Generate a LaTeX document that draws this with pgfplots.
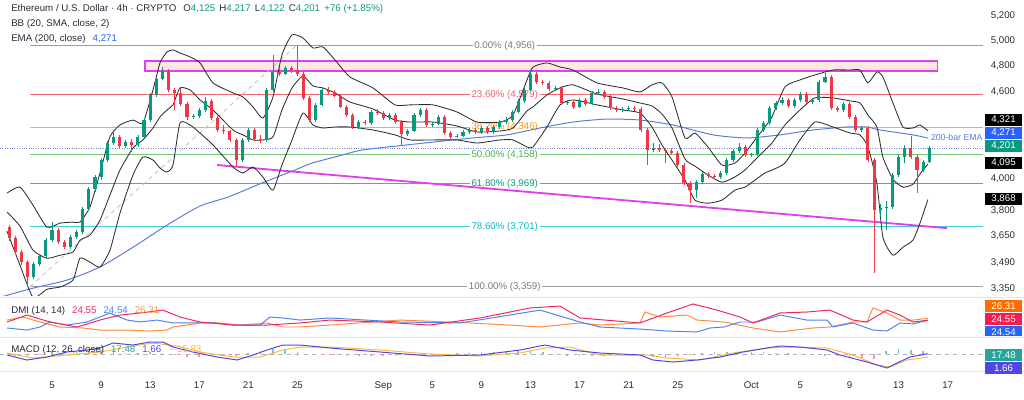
\documentclass[border=0pt]{standalone}
\usepackage{pgfplots}
\usepackage{pgfplotstable}
\pgfplotsset{compat=1.18}
\usepackage{fontspec}
\setmainfont{Liberation Sans}
\definecolor{upc}{RGB}{8,153,129}
\definecolor{dnc}{RGB}{242,54,69}
\definecolor{emac}{RGB}{90,125,215}
\definecolor{bbc}{RGB}{45,45,45}
\definecolor{fgray}{RGB}{120,123,134}
\definecolor{fred}{RGB}{242,54,69}
\definecolor{forange}{RGB}{255,152,0}
\definecolor{fgreen}{RGB}{76,175,80}
\definecolor{fteal}{RGB}{8,153,129}
\definecolor{fcyan}{RGB}{0,188,212}
\definecolor{pinkf}{RGB}{253,232,226}
\definecolor{magc}{RGB}{224,64,235}
\definecolor{txt}{RGB}{40,44,56}
\definecolor{sepc}{RGB}{224,227,235}
\definecolor{adxc}{RGB}{240,40,90}
\definecolor{pdic}{RGB}{80,130,240}
\definecolor{mdic}{RGB}{255,140,60}
\definecolor{macdc}{RGB}{80,70,230}
\definecolor{sigc}{RGB}{250,185,60}
\definecolor{histup}{RGB}{120,200,190}
\definecolor{histdn}{RGB}{245,150,160}
\definecolor{boxblue}{RGB}{41,98,255}
\definecolor{boxorange}{RGB}{255,109,0}
\definecolor{boxred}{RGB}{242,30,80}
\definecolor{boxteal}{RGB}{38,166,154}
\definecolor{pricedot}{RGB}{110,140,200}
\newcommand{\tvf}{\fontsize{6.9}{7.8}\selectfont}

\pgfplotstableread{
x o h l c
3.5 3413 3495 3400 3485
4.0 3485 3542 3475 3530
4.5 3530 3635 3520 3622
5.0 3622 3729 3610 3681
6.5 3581 3652 3572 3640
7.0 3640 3680 3628 3669
7.5 3669 3820 3660 3808
8.0 3808 3945 3795 3933
8.5 3933 4025 3915 4010
9.0 4010 4135 3995 4122
9.5 4122 4250 4110 4237
10.0 4237 4327 4225 4279
11.0 4217 4258 4200 4244
12.0 4224 4292 4212 4279
12.5 4279 4410 4268 4397
13.0 4397 4592 4385 4579
13.5 4579 4712 4565 4699
14.0 4699 4790 4688 4759
16.5 4419 4440 4405 4425
17.0 4425 4480 4410 4469
17.5 4469 4564 4458 4535
20.5 4122 4270 4110 4258
21.0 4258 4340 4245 4327
22.5 4258 4630 4245 4616
23.0 4616 4885 4600 4752
24.0 4735 4800 4725 4783
26.5 4397 4518 4385 4506
27.0 4506 4630 4495 4616
30.0 4348 4395 4335 4383
31.0 4376 4468 4365 4455
32.5 4411 4448 4400 4433
34.0 4299 4335 4288 4320
34.5 4320 4448 4310 4433
35.0 4433 4482 4420 4469
36.0 4362 4385 4350 4370
36.5 4370 4432 4360 4419
38.0 4279 4300 4268 4286
38.5 4286 4325 4275 4313
39.0 4313 4340 4300 4327
40.0 4313 4355 4302 4341
41.0 4313 4362 4302 4348
41.5 4348 4395 4336 4383
42.0 4383 4420 4370 4397
42.5 4397 4468 4385 4455
43.0 4455 4548 4445 4535
43.5 4535 4630 4522 4616
44.0 4616 4767 4605 4737
46.0 4624 4645 4612 4631
47.0 4520 4540 4505 4525
48.0 4491 4555 4480 4542
49.0 4513 4608 4502 4594
49.5 4594 4625 4580 4600
51.5 4469 4490 4458 4476
52.0 4476 4496 4465 4484
54.0 4189 4240 4175 4203
57.5 3927 3990 3880 3978
58.0 3978 4045 3965 4030
59.5 4010 4048 3998 4036
60.0 4036 4135 4025 4122
60.5 4122 4195 4110 4182
61.0 4182 4235 4170 4210
62.0 4156 4172 4140 4160
62.5 4160 4340 4150 4327
63.0 4327 4390 4315 4376
63.5 4376 4496 4365 4484
64.0 4484 4535 4472 4520
64.5 4520 4560 4508 4542
65.5 4498 4555 4486 4542
66.0 4542 4600 4530 4586
67.0 4527 4558 4512 4542
67.5 4542 4690 4530 4676
68.0 4676 4745 4665 4714
69.5 4469 4526 4458 4513
71.0 4327 4355 4310 4341
72.5 3802 3840 3760 3814
73.0 3814 3860 3680 3820
73.5 3820 4035 3808 4023
74.0 4023 4160 4010 4142
74.5 4142 4225 4100 4203
76.0 4056 4125 4040 4109
76.5 4109 4217 4100 4201
}\upcandles

\pgfplotstableread{
x o h l c
1.5 3699 3712 3620 3634
2.0 3634 3645 3540 3553
2.5 3553 3565 3480 3496
3.0 3496 3505 3359 3413
5.5 3681 3695 3598 3610
6.0 3610 3622 3570 3581
10.5 4279 4292 4205 4217
11.5 4244 4262 4176 4224
14.5 4759 4772 4600 4616
15.0 4616 4630 4469 4594
15.5 4594 4640 4500 4513
16.0 4513 4525 4400 4419
18.0 4535 4548 4398 4411
18.5 4411 4425 4315 4327
19.0 4327 4360 4300 4318
19.5 4318 4330 4245 4258
20.0 4258 4270 4076 4122
21.5 4327 4340 4250 4265
22.0 4265 4290 4240 4258
23.5 4752 4790 4720 4735
24.5 4783 4800 4745 4768
25.0 4768 4956 4720 4737
25.5 4737 4750 4540 4557
26.0 4557 4570 4380 4397
27.5 4616 4640 4585 4600
28.0 4600 4612 4560 4572
28.5 4572 4585 4480 4491
29.0 4491 4505 4420 4433
29.5 4433 4445 4335 4348
30.5 4383 4400 4362 4376
31.5 4455 4475 4435 4447
32.0 4447 4460 4398 4411
33.0 4433 4445 4370 4383
33.5 4383 4395 4224 4299
35.5 4469 4480 4350 4362
37.0 4419 4430 4290 4306
37.5 4306 4320 4265 4279
39.5 4327 4340 4300 4313
40.5 4341 4352 4300 4313
44.5 4737 4750 4662 4676
45.0 4676 4690 4650 4668
45.5 4668 4680 4610 4624
46.5 4631 4642 4508 4520
47.5 4525 4538 4478 4491
48.5 4542 4555 4500 4513
50.0 4600 4612 4550 4564
50.5 4564 4575 4470 4484
51.0 4484 4495 4455 4469
52.5 4484 4496 4462 4476
53.0 4476 4488 4315 4327
53.5 4327 4340 4089 4189
54.5 4203 4230 4175 4189
55.0 4189 4205 4102 4182
55.5 4182 4200 4155 4169
56.0 4169 4180 4075 4089
56.5 4089 4100 3958 3972
57.0 3972 3985 3845 3927
58.5 4030 4042 4005 4017
59.0 4017 4030 3998 4010
61.5 4210 4222 4142 4156
65.0 4542 4555 4485 4498
66.5 4586 4598 4515 4527
68.5 4714 4728 4470 4484
69.0 4484 4500 4455 4469
70.0 4513 4525 4405 4419
70.5 4419 4432 4315 4327
71.5 4341 4352 4108 4122
72.0 4122 4135 3435 3802
75.0 4203 4286 4130 4142
75.5 4142 4155 3908 4056
}\dncandles

\pgfplotstableread{
x ub mb lb
1.33 3908 3790 3675
2.39 3946 3705 3479
3.45 3833 3564 3303
4.59 3699 3518 3346
5.65 3723 3535 3358
6.71 3729 3553 3396
7.28 3729 3622 3518
8.09 3821 3652 3496
8.91 4037 3741 3468
9.72 4279 3896 3564
10.54 4362 4056 3784
11.60 4397 4203 4024
12.41 4376 4258 4142
13.23 4616 4341 4122
13.80 4822 4419 4069
14.37 4908 4469 4043
14.86 4924 4506 4089
15.43 4900 4631 4376
16.25 4869 4616 4362
17.06 4822 4542 4306
18.12 4669 4469 4224
19.75 4594 4327 4076
20.56 4564 4293 4037
21.38 4491 4258 4076
22.19 4411 4258 4010
23.01 4564 4279 3927
23.74 4885 4469 4089
24.56 5045 4631 4258
25.45 5020 4721 4447
26.27 4940 4646 4362
27.08 4948 4631 4341
28.06 4845 4594 4348
29.28 4714 4527 4348
31.16 4631 4476 4327
32.95 4506 4397 4293
34.18 4506 4383 4258
36.05 4506 4383 4258
38.00 4455 4355 4258
39.64 4383 4313 4237
41.51 4383 4320 4258
42.57 4433 4341 4258
43.71 4691 4462 4210
44.20 4790 4491 4210
45.34 4822 4579 4348
46.40 4790 4631 4506
47.46 4767 4654 4542
49.42 4669 4586 4506
51.53 4631 4549 4469
52.92 4601 4520 4447
53.90 4654 4498 4348
54.71 4669 4440 4224
55.53 4564 4341 4122
56.59 4272 4129 3991
57.40 4306 4082 3864
58.46 4210 4024 3845
59.60 4089 3978 3864
60.66 4102 4011 3927
61.48 4169 4056 3946
62.29 4258 4122 3991
63.11 4348 4189 4037
63.68 4419 4237 4056
64.74 4639 4362 4102
65.96 4691 4469 4258
67.18 4729 4557 4383
68.65 4767 4557 4348
70.04 4767 4535 4306
70.85 4767 4520 4293
71.50 4669 4433 4210
72.23 4752 4348 3972
72.72 4714 4142 3640
73.54 4520 3997 3535
74.35 4348 3946 3581
75.17 4341 3965 3622
75.74 4362 4030 3723
76.39 4321 4095 3868
}\bbands

\pgfplotstableread{
x ema
0.76 3303
3.45 3352
6.22 3396
8.91 3468
11.60 3581
14.37 3711
17.06 3827
19.34 3883
22.11 3972
24.80 4056
26.19 4102
28.06 4142
30.26 4189
33.93 4224
39.31 4272
42.08 4293
44.77 4341
47.46 4383
50.23 4404
52.92 4397
55.61 4362
58.87 4293
61.64 4272
64.33 4293
67.02 4327
69.79 4348
71.42 4348
72.48 4327
75.17 4293
76.39 4271
}\emadata

\pgfplotstableread{
x adx
1.33 22.9
2.96 29.3
4.83 22.9
7.04 18.3
8.91 24.7
10.54 29.3
12.17 31.2
14.04 33.9
15.43 27.5
17.06 22.9
19.75 20.1
22.52 20.1
25.21 22.0
27.65 24.7
31.73 22.9
35.80 20.1
39.88 26.6
43.95 35.8
46.40 37.6
48.03 26.6
52.92 22.0
55.12 31.2
57.24 39.5
59.19 33.9
61.07 27.5
62.13 22.0
64.33 31.2
66.53 32.1
68.40 33.9
70.28 24.7
71.42 22.9
73.05 33.9
74.11 29.3
75.17 22.9
76.39 24.55
}\adxdata

\pgfplotstableread{
x pdi
1.33 17.4
2.96 15.5
4.02 18.3
4.83 22.9
6.22 20.1
7.85 22.9
8.91 27.5
9.72 31.2
11.11 24.7
12.17 22.9
13.56 24.7
14.86 22.0
18.12 22.0
19.75 20.1
21.95 20.1
22.76 27.5
23.82 26.6
25.21 24.7
27.65 26.6
33.36 22.9
38.25 22.0
42.32 29.3
44.77 33.9
48.03 22.9
49.66 18.3
52.92 16.4
55.12 14.6
57.57 13.7
58.63 17.4
59.77 18.3
61.07 22.9
62.46 22.9
64.33 29.3
66.53 24.7
68.16 24.7
68.65 18.3
70.28 22.0
71.91 15.5
73.05 14.6
74.11 22.0
75.17 21.1
76.39 24.54
}\pdidata

\pgfplotstableread{
x mdi
1.33 24.7
2.63 27.5
4.02 22.9
5.65 18.3
7.52 17.4
8.91 15.5
11.11 15.5
12.98 14.6
14.37 15.5
14.86 18.3
17.06 22.0
18.69 22.0
20.32 20.1
22.52 22.0
23.82 18.3
25.21 18.3
27.65 20.1
33.36 24.7
37.43 22.9
42.32 20.1
44.77 18.3
48.03 22.0
49.66 20.1
52.92 22.0
53.33 32.1
54.55 27.5
56.75 29.3
57.57 24.7
59.77 22.9
62.13 17.4
64.33 13.7
67.02 17.4
68.40 18.3
70.28 22.9
71.42 22.9
71.91 35.8
73.05 31.2
74.11 24.7
75.17 24.7
76.39 26.31
}\mdidata

\pgfplotstableread{
x macd
1.33 -5
2.96 -30
4.59 -15
6.22 10
7.85 20
8.91 30
9.97 55
11.60 45
12.98 60
14.04 60
14.86 35
16.49 10
18.45 -15
20.08 -30
21.38 -5
22.52 20
23.82 45
25.21 45
27.65 30
31.73 10
35.80 -10
39.88 -5
43.14 20
45.18 45
47.21 20
49.66 5
52.92 -5
53.98 -30
55.61 -40
57.57 -30
59.44 -15
61.32 10
63.27 30
64.33 40
65.96 35
68.16 20
69.22 -5
71.42 -40
73.05 -70
73.87 -45
74.93 -15
76.39 1.66
}\macddata

\pgfplotstableread{
x sig
1.33 5
3.45 -20
6.22 -5
8.91 10
11.11 35
13.23 55
15.19 40
17.06 10
19.75 -15
21.95 -15
23.82 20
25.21 35
27.65 35
31.73 20
35.80 0
39.88 -10
43.14 5
45.18 30
47.21 35
49.66 -5
53.49 -5
55.12 -20
57.81 -30
60.50 5
63.27 30
64.90 35
68.16 30
70.28 -5
72.23 -55
73.29 -65
74.68 -30
76.39 -15.83
}\sigdata

\pgfplotstableread{
x h
5 10
6 12
7 15
8 15
9 18
10 20
11 5
12 5
13 8
14 5
21 5
22 15
23 25
24 20
25 10
38 3
39 5
40 8
41 10
42 12
43 15
44 15
45 10
58 5
59 10
60 10
61 10
62 8
63 8
64 6
65 3
73 15
74 25
75 20
76 17.48
}\histup

\pgfplotstableread{
x h
2 -10
3 -15
4 -5
15 -5
16 -15
17 -15
18 -12
19 -10
20 -8
27 -5
28 -5
29 -8
30 -10
31 -10
32 -8
33 -8
34 -5
35 -5
36 -5
37 -3
47 -10
48 -12
49 -10
50 -8
51 -5
52 -3
53 -5
54 -15
55 -20
56 -10
57 -5
67 -5
68 -8
69 -10
70 -15
71 -20
72 -25
}\histdn

\begin{document}
\begin{tikzpicture}
\path[use as bounding box] (0,0) rectangle (25.6,-9.975);
\begin{scope}[x=0.025cm,y=-0.025cm]
\draw[sepc, line width=0.6pt] (0,297) -- (1024,297);
\draw[sepc, line width=0.6pt] (0,337) -- (1024,337);
\draw[sepc, line width=0.6pt] (0,372) -- (1024,372);
\end{scope}

% ---------------- price pane
\begin{axis}[at={(0cm,-7.4cm)}, anchor=south west,
  width=24.575cm, height=7.275cm, scale only axis,
  xmin=0.76, xmax=80.88, ymode=log, ymin=3310, ymax=5295,
  axis line style={draw=none}, xtick=\empty,
  ytick={3350,3490,3650,3800,4000,4600,4800,5000,5200},
  yticklabels={{3,350},{3,490},{3,650},{3,800},{4,000},{4,600},{4,800},{5,000},{5,200}},
  yticklabel pos=right, major tick length=0pt,
  yticklabel style={anchor=west, font=\tvf, text=txt, xshift=2pt}]
% fibonacci levels
\addplot[fgray!75, line width=0.7pt] coordinates {(3.2,4956) (80.88,4956)};
\addplot[fred!75, line width=0.7pt] coordinates {(3.2,4579) (80.88,4579)};
\addplot[forange!80, line width=0.7pt] coordinates {(3.2,4346) (80.88,4346)};
\addplot[fgreen!75, line width=0.7pt] coordinates {(3.2,4158) (80.88,4158)};
\addplot[fteal!75, line width=0.7pt] coordinates {(3.2,3969) (80.88,3969)};
\addplot[fcyan!75, line width=0.9pt] coordinates {(3.2,3701) (80.88,3701)};
\addplot[fgray!75, line width=0.7pt] coordinates {(3.2,3359) (80.88,3359)};
\node[fill=white, inner sep=1.2pt, text=fgray, font=\tvf] at (axis cs:41.9,4956) {0.00\% (4,956)};
\node[fill=white, inner sep=1.2pt, text=fred!80, font=\tvf] at (axis cs:41.9,4579) {23.60\% (4,579)};
\node[fill=white, inner sep=1.2pt, text=forange, font=\tvf] at (axis cs:41.9,4346) {38.20\% (4,346)};
\node[fill=white, inner sep=1.2pt, text=fgreen, font=\tvf] at (axis cs:41.9,4158) {50.00\% (4,158)};
\node[fill=white, inner sep=1.2pt, text=fteal, font=\tvf] at (axis cs:41.9,3969) {61.80\% (3,969)};
\node[fill=white, inner sep=1.2pt, text=fcyan, font=\tvf] at (axis cs:41.9,3701) {78.60\% (3,701)};
\node[fill=white, inner sep=1.2pt, text=fgray, font=\tvf] at (axis cs:41.9,3359) {100.00\% (3,359)};
% resistance zone
\addplot[draw=magc, fill=pinkf, line width=0.8pt] coordinates {(12.58,4759) (77.2,4759) (77.2,4837) (12.58,4837)} -- cycle;
% fib anchor diagonal
\addplot[gray!45, dashed, line width=0.7pt] coordinates {(3.2,3359) (24.88,4956)};
% falling trend line
\addplot[magc, line width=1.3pt] coordinates {(18.45,4089) (77.94,3693)};
% current price line
\addplot[pricedot, densely dotted, line width=0.7pt] coordinates {(0.76,4201) (80.88,4201)};
% EMA 200
\addplot[emac, line width=0.7pt, smooth, tension=0.4] table[x=x, y=ema] {\emadata};
% Bollinger bands
\addplot[bbc, line width=0.6pt, smooth, tension=0.35] table[x=x, y=ub] {\bbands};
\addplot[bbc, line width=0.6pt, smooth, tension=0.35] table[x=x, y=mb] {\bbands};
\addplot[bbc, line width=0.6pt, smooth, tension=0.35] table[x=x, y=lb] {\bbands};
% candles: wicks
\addplot[draw=none, mark=none, error bars/.cd, y dir=plus, y explicit, error mark=none,
  error bar style={draw=upc, line width=0.5pt}]
  table[x=x, y=l, y error plus expr=\thisrow{h}-\thisrow{l}] {\upcandles};
\addplot[draw=none, mark=none, error bars/.cd, y dir=plus, y explicit, error mark=none,
  error bar style={draw=dnc, line width=0.5pt}]
  table[x=x, y=l, y error plus expr=\thisrow{h}-\thisrow{l}] {\dncandles};
% candles: bodies
\addplot[draw=none, mark=none, error bars/.cd, y dir=plus, y explicit, error mark=none,
  error bar style={draw=upc, line width=2.2pt}]
  table[x=x, y=o, y error plus expr=\thisrow{c}-\thisrow{o}] {\upcandles};
\addplot[draw=none, mark=none, error bars/.cd, y dir=plus, y explicit, error mark=none,
  error bar style={draw=dnc, line width=2.2pt}]
  table[x=x, y=c, y error plus expr=\thisrow{o}-\thisrow{c}] {\dncandles};
\end{axis}

% ---------------- DMI pane
\begin{axis}[at={(0cm,-8.4cm)}, anchor=south west,
  width=24.575cm, height=0.95cm, scale only axis,
  xmin=0.76, xmax=80.88, ymin=10, ymax=45,
  axis line style={draw=none}, xtick=\empty, ytick=\empty]
\addplot[mdic, line width=0.7pt] table[x=x, y=mdi] {\mdidata};
\addplot[pdic, line width=0.7pt] table[x=x, y=pdi] {\pdidata};
\addplot[adxc, line width=0.7pt] table[x=x, y=adx] {\adxdata};
\end{axis}

% ---------------- MACD pane
\begin{axis}[at={(0cm,-9.275cm)}, anchor=south west,
  width=24.575cm, height=0.825cm, scale only axis,
  xmin=0.76, xmax=80.88, ymin=-85, ymax=80,
  axis line style={draw=none}, ytick=\empty,
  xtick={5,9,13,17,21,25,32,36,40,44,48,52,56,62,66,70,74,78},
  xticklabels={5,9,13,17,21,25,Sep,5,9,13,17,21,25,Oct,5,9,13,17},
  major tick length=0pt,
  xticklabel style={font=\tvf, text=txt, yshift=-4pt}]
\addplot[gray!60, dashed, line width=0.5pt] coordinates {(0.76,0) (80.88,0)};
\addplot[ycomb, histup, line width=1.2pt] table[x=x, y=h] {\histup};
\addplot[ycomb, histdn, line width=1.2pt] table[x=x, y=h] {\histdn};
\addplot[sigc, line width=0.7pt] table[x=x, y=sig] {\sigdata};
\addplot[macdc, line width=0.7pt] table[x=x, y=macd] {\macddata};
\end{axis}

% ---------------- annotations
\begin{scope}[x=0.025cm,y=-0.025cm]
\node[anchor=west, text=emac, font=\fontsize{6.2}{7}\selectfont, inner sep=0pt] at (931,137) {200-bar EMA};
\node[anchor=west, font=\tvf, text=txt, inner sep=0pt] at (11,9) {Ethereum / U.S. Dollar · 4h · CRYPTO\hspace{5pt}O\textcolor{upc}{4,125}\hspace{3pt}H\textcolor{upc}{4,217}\hspace{3pt}L\textcolor{upc}{4,122}\hspace{3pt}C\textcolor{upc}{4,201}\hspace{3pt}\textcolor{upc}{+76 (+1.85\%)}};
\node[anchor=west, font=\tvf, text=txt, inner sep=0pt] at (11,24) {BB (20, SMA, close, 2)};
\node[anchor=west, font=\tvf, text=txt, inner sep=0pt] at (11,39) {EMA (200, close)\hspace{5pt}\textcolor{boxblue}{4,271}};
\node[anchor=west, font=\tvf, text=txt, inner sep=0pt] at (11,311) {DMI (14, 14)\hspace{5pt}\textcolor{adxc}{24.55}\hspace{5pt}\textcolor{pdic}{24.54}\hspace{5pt}\textcolor{mdic}{26.31}};
\node[anchor=west, font=\tvf, text=txt, inner sep=0pt] at (11,350) {MACD (12, 26, close)\hspace{5pt}\textcolor{boxteal}{17.48}\hspace{5pt}\textcolor{macdc}{1.66}\hspace{5pt}\textcolor{sigc}{$-$15.83}};
% price scale boxes
\tikzset{pbox/.style={anchor=west, font=\tvf, text=white, inner sep=0pt, minimum width=0.925cm, minimum height=0.3cm}}
\node[pbox, fill=black] at (985,120) {4,321};
\node[pbox, fill=boxblue] at (985,133) {4,271};
\node[pbox, fill=upc] at (985,146) {4,201};
\node[pbox, fill=black] at (985,163) {4,095};
\node[pbox, fill=black] at (985,199) {3,868};
\begin{scope}
\clip (983,298) rectangle (1024,336);
\node[pbox, fill=boxorange] at (985,306) {26.31};
\node[pbox, fill=boxred] at (985,319) {24.55};
\node[pbox, fill=boxblue] at (985,332) {24.54};
\end{scope}
\node[pbox, fill=boxteal] at (985,355) {17.48};
\node[pbox, fill=macdc] at (985,368) {1.66};
\end{scope}
\end{tikzpicture}
\end{document}
